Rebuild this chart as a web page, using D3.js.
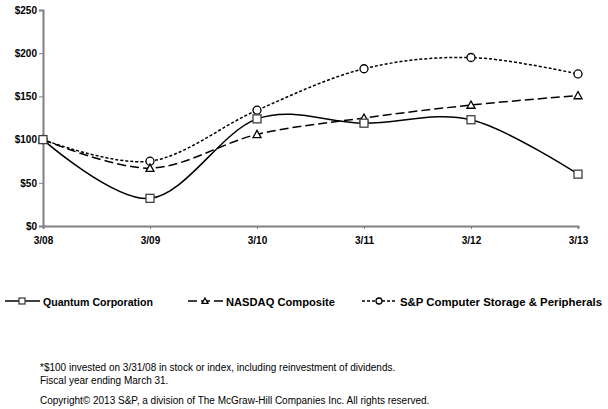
<!DOCTYPE html>
<html>
<head>
<meta charset="utf-8">
<script src="https://cdn.jsdelivr.net/npm/d3@7"></script>
<style>
  body { margin: 0; background: #fff; }
  text { font-family: "Liberation Sans", Arial, sans-serif; }
</style>
</head>
<body>
<script>
const years = ["3/08", "3/09", "3/10", "3/11", "3/12", "3/13"];
const quantum = [100, 32, 124, 119, 123, 60];
const nasdaq = [100, 67, 106, 125, 140, 151];
const spStorage = [100, 75, 134, 182, 195, 176];
const yTicks = [0, 50, 100, 150, 200, 250];

const width = 608, height = 409;

const svg = d3.select("body")
  .append("svg")
  .attr("width", width)
  .attr("height", height);

const x = d3.scalePoint()
  .domain(years)
  .range([43, 578]);

const y = d3.scaleLinear()
  .domain([0, 250])
  .range([226, 10]);

// axes
const yAxis = svg.append("g")
  .attr("transform", "translate(43,0)")
  .call(d3.axisLeft(y).tickValues(yTicks).tickSize(4).tickFormat(d => "$" + d));
const xAxis = svg.append("g")
  .attr("transform", "translate(0,226)")
  .call(d3.axisBottom(x).tickSize(3).tickPadding(8));

[yAxis, xAxis].forEach(g => {
  g.select(".domain").attr("stroke", "#808080").attr("stroke-width", 2);
  g.selectAll(".tick line").attr("stroke", "#808080");
  g.selectAll(".tick text")
    .attr("fill", "#000")
    .style("font-size", "10px")
    .style("font-weight", "bold");
});
yAxis.selectAll(".tick text").attr("x", -6);

const series = [
  { name: "Quantum Corporation", values: quantum, dash: null, marker: "square", w: 110 },
  { name: "NASDAQ Composite", values: nasdaq, dash: "9,4", marker: "triangle", w: 109 },
  { name: "S&P Computer Storage & Peripherals", values: spStorage, dash: "3,2", marker: "circle", w: 202 }
];

const line = d3.line()
  .x((d, i) => x(years[i]))
  .y(d => y(d))
  .curve(d3.curveCardinal.tension(0));

function drawMarker(g, type, cx, cy, s) {
  if (type === "square") {
    g.append("rect")
      .attr("x", cx - s / 2).attr("y", cy - s / 2)
      .attr("width", s).attr("height", s)
      .attr("fill", "#fff").attr("stroke", "#404040").attr("stroke-width", 1.3);
  } else if (type === "triangle") {
    const h = s / 2;
    g.append("path")
      .attr("d", `M${cx},${cy - h}L${cx + h},${cy + h * 0.8}L${cx - h},${cy + h * 0.8}Z`)
      .attr("fill", "#fff").attr("stroke", "#000").attr("stroke-width", 1.3);
  } else {
    g.append("circle")
      .attr("cx", cx).attr("cy", cy).attr("r", s / 2)
      .attr("fill", "#fff").attr("stroke", "#000").attr("stroke-width", 1.3);
  }
}

series.forEach(s => {
  svg.append("path")
    .datum(s.values)
    .attr("d", line)
    .attr("fill", "none")
    .attr("stroke", "#000")
    .attr("stroke-width", 1.5)
    .attr("stroke-dasharray", s.dash);
});
series.slice().reverse().forEach(s => {
  const g = svg.append("g");
  s.values.forEach((v, i) => drawMarker(g, s.marker, x(years[i]), y(v), 8));
});

// legend
const legendX = [5, 188, 362];
series.forEach((s, i) => {
  const g = svg.append("g").attr("transform", `translate(${legendX[i]},301)`);
  g.append("line")
    .attr("x1", 0).attr("x2", 35)
    .attr("stroke", "#000").attr("stroke-width", 1.5)
    .attr("stroke-dasharray", s.dash);
  drawMarker(g, s.marker, 17, 0, 6);
  g.append("text")
    .attr("x", 38).attr("y", 4.5)
    .attr("textLength", s.w)
    .attr("lengthAdjust", "spacingAndGlyphs")
    .style("font-size", "11.2px")
    .style("font-weight", "bold")
    .text(s.name);
});

// footnotes
const notes = [
  ["*$100 invested on 3/31/08 in stock or index, including reinvestment of dividends.", 371],
  ["Fiscal year ending March 31.", 384],
  ["Copyright\u00a9 2013 S&P, a division of The McGraw-Hill Companies Inc. All rights reserved.", 404]
];
svg.selectAll(".note")
  .data(notes)
  .enter()
  .append("text")
  .attr("class", "note")
  .attr("x", 40)
  .attr("y", d => d[1])
  .style("font-size", "10px")
  .text(d => d[0]);
</script>
</body>
</html>
